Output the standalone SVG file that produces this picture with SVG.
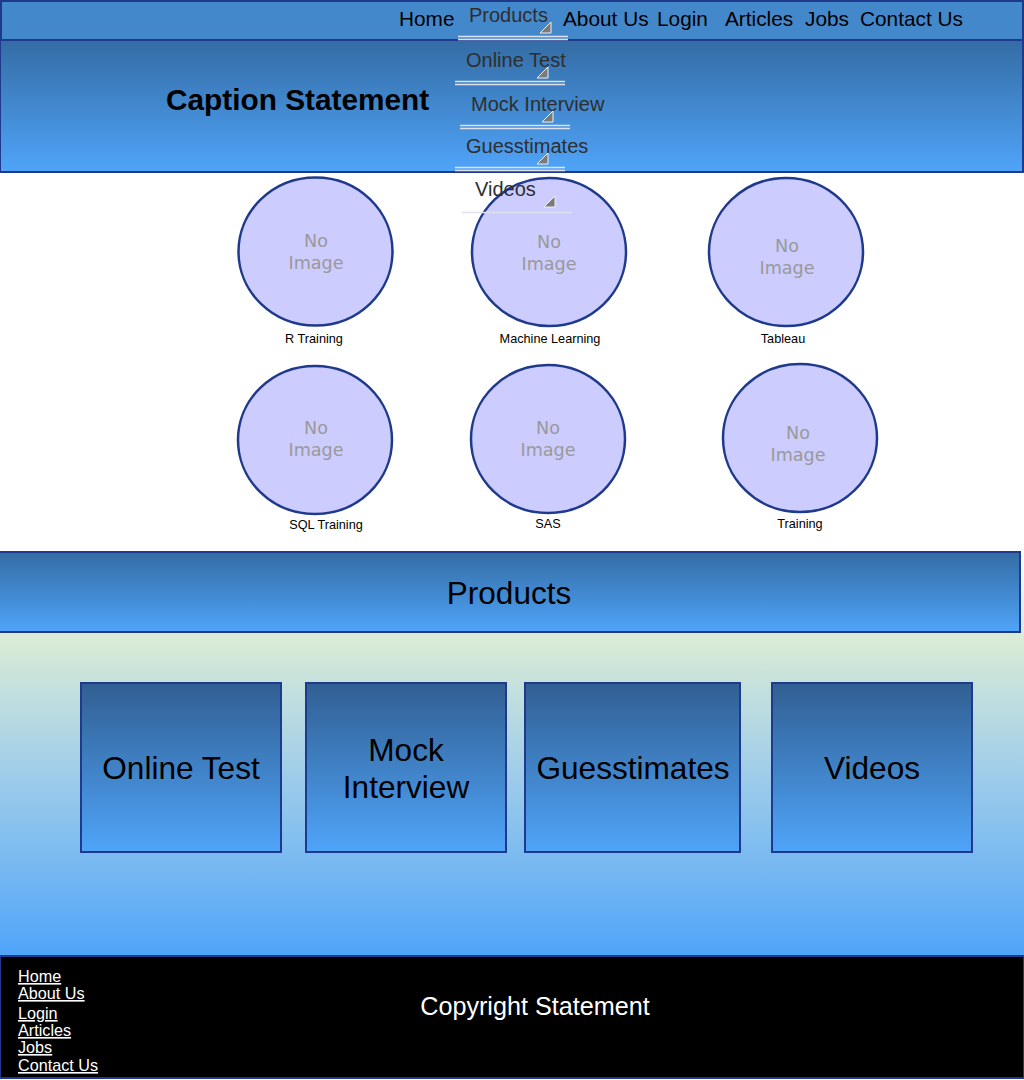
<svg xmlns="http://www.w3.org/2000/svg" width="1024" height="1080" viewBox="0 0 1024 1080">
<defs>
<linearGradient id="gBand" x1="0" y1="0" x2="0" y2="1"><stop offset="0" stop-color="#346ca4"/><stop offset="1" stop-color="#4fa4f9"/></linearGradient>
<linearGradient id="gBox" x1="0" y1="0" x2="0" y2="1"><stop offset="0" stop-color="#315f92"/><stop offset="1" stop-color="#4fa4f9"/></linearGradient>
<linearGradient id="gPanel" x1="0" y1="0" x2="0" y2="1"><stop offset="0" stop-color="#fffff0"/><stop offset="0.22" stop-color="#d8ebd6"/><stop offset="0.55" stop-color="#9fcdea"/><stop offset="1" stop-color="#4fa4f9"/></linearGradient>
<polygon id="tri" points="11,0 11,11 0,11" fill="#7a7a7a" stroke="#eef0f6" stroke-width="1"/>
</defs>
<style>
.nav{font-family:"Liberation Sans",Arial,sans-serif;font-size:20.8px;fill:#000}
.dd{font-family:"Liberation Sans",Arial,sans-serif;font-size:20px;fill:#2e2e2e}
.dl{stroke:#dde1ee;stroke-width:1.4}
.cap{font-family:"Liberation Sans",Arial,sans-serif;font-size:29.8px;font-weight:bold;fill:#000}
.circ{fill:#ccccff;stroke:#1f3a8c;stroke-width:2.5}
.noimg{font-family:"DejaVu Sans",Verdana,sans-serif;font-size:17.6px;fill:#999;text-anchor:middle}
.lbl{font-family:"Liberation Sans",Arial,sans-serif;font-size:12.7px;fill:#000;text-anchor:middle}
.box{fill:url(#gBox);stroke:#1f3a8c;stroke-width:2}
.boxt{font-family:"Liberation Sans",Arial,sans-serif;font-size:31.6px;fill:#000;text-anchor:middle}
.foot{font-family:"Liberation Sans",Arial,sans-serif;font-size:16.2px;fill:#fff;text-decoration:underline}
</style>
<rect x="0" y="0" width="1024" height="1080" fill="#ffffff"/>
<g id="panel"><rect x="0" y="552" width="1024" height="404" fill="url(#gPanel)"/></g>
<g id="navbar">
<rect x="1" y="1" width="1022" height="39" fill="#4488cc" stroke="#1f3a8c" stroke-width="2"/>
<text class="nav" x="399" y="26">Home</text>
<text class="nav" x="563" y="26">About Us</text>
<text class="nav" x="657" y="26">Login</text>
<text class="nav" x="725" y="26">Articles</text>
<text class="nav" x="805" y="26">Jobs</text>
<text class="nav" x="860" y="26">Contact Us</text>
</g>
<g id="caption">
<rect x="0" y="40" width="1023" height="132" fill="url(#gBand)" stroke="#1f3a8c" stroke-width="2"/>
<text class="cap" x="166" y="110">Caption Statement</text>
</g>
<g id="dropdown">
<text class="dd" x="469" y="22">Products</text>
<use href="#tri" x="540" y="22"/>
<line class="dl" x1="458" y1="36.5" x2="568" y2="36.5"/><line class="dl" x1="458" y1="39.5" x2="568" y2="39.5"/>
<text class="dd" x="466" y="67">Online Test</text>
<use href="#tri" x="537" y="67"/>
<line class="dl" x1="455" y1="81.5" x2="565" y2="81.5"/><line class="dl" x1="455" y1="84.5" x2="565" y2="84.5"/>
<text class="dd" x="471" y="111">Mock Interview</text>
<use href="#tri" x="542" y="111"/>
<line class="dl" x1="460" y1="125.5" x2="570" y2="125.5"/><line class="dl" x1="460" y1="128.5" x2="570" y2="128.5"/>
<text class="dd" x="466" y="153">Guesstimates</text>
<use href="#tri" x="537" y="153"/>
<line class="dl" x1="455" y1="167.5" x2="565" y2="167.5"/><line class="dl" x1="455" y1="170.5" x2="565" y2="170.5"/>
</g>
<g id="c1"><ellipse class="circ" cx="315.5" cy="251.5" rx="77" ry="74"/><text class="noimg" x="316" y="247">No</text><text class="noimg" x="316" y="269">Image</text><text class="lbl" x="314" y="343">R Training</text></g>
<g id="c2"><ellipse class="circ" cx="549" cy="252" rx="77" ry="74"/><text class="noimg" x="549" y="248">No</text><text class="noimg" x="549" y="270">Image</text><text class="lbl" x="550" y="343">Machine Learning</text></g>
<g id="c3"><ellipse class="circ" cx="786" cy="252" rx="77" ry="74"/><text class="noimg" x="787" y="252">No</text><text class="noimg" x="787" y="274">Image</text><text class="lbl" x="783" y="343">Tableau</text></g>
<g id="c4"><ellipse class="circ" cx="315" cy="440" rx="77" ry="74"/><text class="noimg" x="316" y="434">No</text><text class="noimg" x="316" y="456">Image</text><text class="lbl" x="326" y="529">SQL Training</text></g>
<g id="c5"><ellipse class="circ" cx="548" cy="439" rx="77" ry="74"/><text class="noimg" x="548" y="434">No</text><text class="noimg" x="548" y="456">Image</text><text class="lbl" x="548" y="528">SAS</text></g>
<g id="c6"><ellipse class="circ" cx="800" cy="438" rx="77" ry="74"/><text class="noimg" x="798" y="439">No</text><text class="noimg" x="798" y="461">Image</text><text class="lbl" x="800" y="528">Training</text></g>
<g id="videos-item">
<text class="dd" x="475" y="196">Videos</text>
<use href="#tri" x="544" y="196"/>
<line class="dl" x1="462" y1="212.5" x2="572" y2="212.5"/>
</g>
<g id="products-band">
<rect x="-1" y="552" width="1021" height="80" fill="url(#gBand)" stroke="#1f3a8c" stroke-width="2"/>
<text x="509" y="604" font-family="Liberation Sans, Arial, sans-serif" font-size="31.5" text-anchor="middle" fill="#000">Products</text>
</g>
<g id="online-test"><rect class="box" x="81" y="683" width="200" height="169"/><text class="boxt" x="181" y="779">Online Test</text></g>
<g id="mock-interview"><rect class="box" x="306" y="683" width="200" height="169"/><text class="boxt" x="406" y="761">Mock</text><text class="boxt" x="406" y="798">Interview</text></g>
<g id="guesstimates"><rect class="box" x="525" y="683" width="215" height="169"/><text class="boxt" x="633" y="779">Guesstimates</text></g>
<g id="videos"><rect class="box" x="772" y="683" width="200" height="169"/><text class="boxt" x="872" y="779">Videos</text></g>
<g id="footer">
<rect x="0" y="956" width="1024" height="122" fill="#000" stroke="#1f3a8c" stroke-width="2"/>
<text class="foot" x="18" y="982">Home</text>
<text class="foot" x="18" y="999">About Us</text>
<text class="foot" x="18" y="1019">Login</text>
<text class="foot" x="18" y="1036">Articles</text>
<text class="foot" x="18" y="1053">Jobs</text>
<text class="foot" x="18" y="1071">Contact Us</text>
<text x="535" y="1015" font-family="Liberation Sans, Arial, sans-serif" font-size="25.2" text-anchor="middle" fill="#fff">Copyright Statement</text>
</g>
</svg>
